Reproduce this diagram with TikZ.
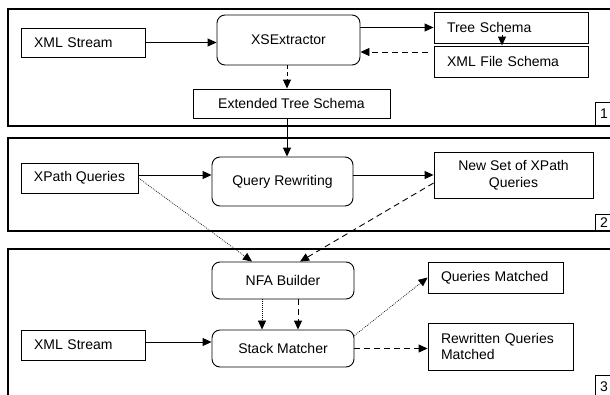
\documentclass[tikz,border=0pt]{standalone}
\usepackage{fontspec}
\setmainfont{Liberation Sans}
\usetikzlibrary{arrows.meta}

\begin{document}
\begin{tikzpicture}[x=1pt,y=-1pt,
    font=\fontsize{14}{16.5}\selectfont,
    box/.style={draw, line width=0.9pt, align=center, inner sep=2pt},
    lbox/.style={box, align=left, inner xsep=13pt},
    rbox/.style={box, rounded corners=8pt},
    frame/.style={draw, line width=1.2pt},
    tip/.style={-{Triangle[length=9pt,width=8pt]}},
    dotline/.style={dash pattern=on 0.8pt off 1.2pt, line width=0.7pt},
    dashline/.style={dash pattern=on 6pt off 4pt, line width=0.9pt},
    solid line/.style={line width=0.9pt}]
\useasboundingbox (0,0) rectangle (610,394);

% the three stages
\draw[frame] (8,9) rectangle (614,126);
\draw[frame] (8,138) rectangle (614,231);
\draw[frame] (8,249) rectangle (614,400);
\node[box, anchor=south west, minimum width=17pt, minimum height=23pt, inner sep=0pt] (n1) at (595,126) {1};
\node[box, anchor=south west, minimum width=17pt, minimum height=16pt, inner sep=0pt] (n2) at (595,231) {2};
\node[box, anchor=north west, minimum width=17pt, minimum height=22pt, inner sep=0pt] (n3) at (595,375) {3};

% stage 1
\node[lbox, text width=98pt, minimum height=29pt] (xmlA) at (83,42.5) {XML Stream};
\node[rbox, minimum width=143pt, minimum height=50pt] (xsext) at (288.5,40) {XSExtractor};
\node[lbox, text width=128pt, minimum height=31pt] (tree) at (511,27.5) {Tree Schema};
\node[lbox, text width=128pt, minimum height=31pt] (xfile) at (511,61.5) {XML File Schema};
\node[box, minimum width=197pt, minimum height=29pt] (ets) at (291.5,103.5) {Extended Tree Schema};
\coordinate (fbk) at ([xshift=-6pt,yshift=9.5pt]xfile.west);
\coordinate (tsd) at ([xshift=-9pt,yshift=8pt]tree.south);

\draw[solid line,tip] (xmlA.east) -- (xmlA.east -| xsext.west);
\draw[solid line,tip] (xsext.east |- tree.west) -- (tree.west);
\draw[dashline,tip] (fbk) -- (fbk -| xsext.east);
\draw[solid line,tip] (tsd) -- (tsd |- xfile.north);
\draw[dashline,dash pattern=on 4pt off 3pt,tip] ([xshift=-1.5pt]xsext.south) -- ([xshift=-1.5pt]xsext.south |- ets.north);

% stage 2
\node[box, minimum width=117pt, minimum height=30pt] (xpq) at (79.5,178) {XPath Queries};
\node[rbox, minimum width=141pt, minimum height=49pt] (qrw) at (282.5,181.5) {Query Rewriting};
\node[box, minimum width=159pt, minimum height=46pt] (nset) at (513.5,175) {New Set of XPath\\Queries};
\coordinate (etsd) at ([xshift=-1.5pt]xsext.south |- ets.south);

\draw[solid line,tip] (etsd) -- (etsd |- qrw.north);
\draw[solid line,tip] ([yshift=3pt]xpq.east) -- ([yshift=3pt]xpq.east -| qrw.west);
\draw[solid line,tip] (qrw.east |- nset.west) -- (nset.west);

% stage 3
\node[rbox, minimum width=142pt, minimum height=37pt] (nfa) at (283,280.5) {NFA Builder};
\node[rbox, minimum width=142pt, minimum height=37pt] (stk) at (283,348.5) {Stack Matcher};
\node[lbox, text width=98pt, minimum height=30pt] (xmlB) at (83,345) {XML Stream};
\node[lbox, text width=109pt, minimum height=31pt] (qm) at (495.5,277.5) {Queries Matched};
\node[lbox, text width=119pt, minimum height=47pt] (rqm) at (500.5,346.5) {Rewritten Queries\\Matched};

\draw[dotline,tip] (xpq.east) -- ([xshift=-31pt]nfa.north);
\draw[dashline,tip] ([yshift=-8pt]nset.west) -- ([xshift=17pt]nfa.north);
\draw[dotline,tip] ([xshift=-21pt]nfa.south) -- ([xshift=-21pt]stk.north);
\draw[dashline,tip] ([xshift=15pt]nfa.south) -- ([xshift=15pt]stk.north);
\draw[solid line,tip] ([yshift=3pt]xmlB.east) -- ([yshift=3pt]xmlB.east -| stk.west);
\draw[dotline,tip] ([yshift=13pt]stk.east) -- (qm.west);
\draw[dashline,tip] (stk.east) -- (stk.east -| rqm.west);

\end{tikzpicture}
\end{document}
